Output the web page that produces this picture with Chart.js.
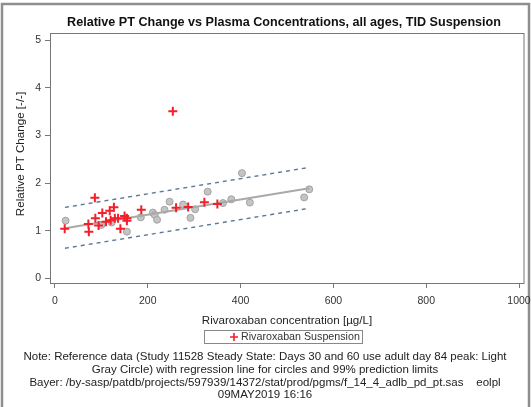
<!DOCTYPE html>
<html>
<head>
<meta charset="utf-8">
<script src="https://cdn.jsdelivr.net/npm/chart.js@4/dist/chart.umd.min.js"></script>
<style>
  html, body { margin: 0; padding: 0; background: #fff; }
  #wrap { width: 531px; height: 407px; position: relative; }
</style>
</head>
<body>
<div id="wrap"><canvas id="c" width="531" height="407"></canvas></div>
<script>
// Rivaroxaban suspension: concentration [µg/L] and relative PT change
const suspConc   = [21, 72, 73, 86, 87, 94, 102, 110, 118, 120, 127, 129, 136, 141, 150, 155, 155, 186, 254, 261, 287, 322, 350];
const suspPT     = [1.04, 1.14, 0.98, 1.69, 1.26, 1.11, 1.37, 1.19, 1.42, 1.22, 1.49, 1.26, 1.26, 1.04, 1.31, 1.26, 1.21, 1.44, 3.51, 1.48, 1.50, 1.60, 1.56];

// Reference data (adult study, gray circles)
const refConc    = [23, 100, 122, 155, 185, 211, 215, 220, 236, 247, 276, 292, 302, 329, 362, 380, 403, 420, 537, 548];
const refPT      = [1.21, 1.12, 1.17, 0.98, 1.28, 1.38, 1.33, 1.23, 1.44, 1.61, 1.55, 1.27, 1.45, 1.82, 1.58, 1.66, 2.21, 1.59, 1.70, 1.87];

// Regression line for the circles and 99% prediction limits
const fitConc    = [21.5, 548];
const fitPT      = [1.05, 1.89];
const upperPT    = [1.49, 2.33];
const lowerPT    = [0.63, 1.47];

// Axis ticks
const xTickVals  = [0, 200, 400, 600, 800, 1000];
const yTickVals  = [0, 1, 2, 3, 4, 5];

const titleText  = 'Relative PT Change vs Plasma Concentrations, all ages, TID Suspension';
const xTitle     = 'Rivaroxaban concentration [µg/L]';
const yTitle     = 'Relative PT Change [-/-]';
const legendText = 'Rivaroxaban Suspension';
const footLines  = [
  'Note: Reference data (Study 11528 Steady State: Days 30 and 60 use adult day 84 peak: Light',
  'Gray Circle) with regression line for circles and 99% prediction limits',
  'Bayer: /by-sasp/patdb/projects/597939/14372/stat/prod/pgms/f_14_4_adlb_pd_pt.sas    eolpl',
  '09MAY2019 16:16'
];

const FONT = '"Liberation Sans", Arial, sans-serif';
const toXY = (xs, ys) => xs.map((x, i) => ({ x: x, y: ys[i] }));

const RED = '#f2202a';
const FRAME = '#777777';

const decor = {
  id: 'decor',
  beforeDraw(chart) {
    const ctx = chart.ctx;
    ctx.save();
    ctx.fillStyle = '#ffffff';
    ctx.fillRect(0, 0, chart.width, chart.height);
    // outer frame
    ctx.strokeStyle = '#8e8e8e';
    ctx.lineWidth = 2.5;
    ctx.strokeRect(2, 4, 527, 420);
    ctx.restore();
  },
  afterDraw(chart) {
    const ctx = chart.ctx;
    const a = chart.chartArea;
    ctx.save();
    // plot frame
    ctx.strokeStyle = FRAME;
    ctx.lineWidth = 1;
    ctx.strokeRect(a.left + 0.5, a.top + 0.5, a.right - a.left - 1, a.bottom - a.top);

    ctx.fillStyle = '#111';
    ctx.textAlign = 'center';
    ctx.textBaseline = 'middle';
    ctx.font = 'bold 12.6px ' + FONT;
    ctx.fillText(titleText, 284, 23);

    ctx.font = '11.6px ' + FONT;
    ctx.fillStyle = '#222';
    ctx.fillText(xTitle, 287, 321);

    ctx.save();
    ctx.translate(21, 154);
    ctx.rotate(-Math.PI / 2);
    ctx.fillText(yTitle, 0, 0);
    ctx.restore();

    // legend
    ctx.strokeStyle = '#888';
    ctx.lineWidth = 1;
    ctx.strokeRect(204.5, 330.5, 158, 13);
    ctx.strokeStyle = RED;
    ctx.lineWidth = 1.6;
    ctx.beginPath();
    ctx.moveTo(230, 337); ctx.lineTo(238, 337);
    ctx.moveTo(234, 333); ctx.lineTo(234, 341);
    ctx.stroke();
    ctx.textAlign = 'left';
    ctx.fillStyle = '#333';
    ctx.font = '10.7px ' + FONT;
    ctx.fillText(legendText, 241, 337.5);

    // footnotes
    ctx.textAlign = 'center';
    ctx.fillStyle = '#222';
    ctx.font = '11.5px ' + FONT;
    footLines.forEach((t, i) => ctx.fillText(t, 265, 357 + i * 12.7));
    ctx.restore();
  }
};

new Chart(document.getElementById('c'), {
  type: 'scatter',
  data: {
    datasets: [
      {
        label: legendText,
        data: toXY(suspConc, suspPT),
        pointStyle: 'cross',
        pointRadius: 4.5,
        pointBorderWidth: 2,
        borderColor: RED,
        backgroundColor: RED,
        order: 0
      },
      {
        label: 'Upper 99% limit',
        data: toXY(fitConc, upperPT),
        showLine: true,
        pointRadius: 0,
        borderColor: '#5d7796',
        borderWidth: 1.4,
        borderDash: [4, 4],
        order: 1
      },
      {
        label: 'Lower 99% limit',
        data: toXY(fitConc, lowerPT),
        showLine: true,
        pointRadius: 0,
        borderColor: '#5d7796',
        borderWidth: 1.4,
        borderDash: [4, 4],
        order: 1
      },
      {
        label: 'Regression',
        data: toXY(fitConc, fitPT),
        showLine: true,
        pointRadius: 0,
        borderColor: '#a9a9a9',
        borderWidth: 2,
        order: 2
      },
      {
        label: 'Reference',
        data: toXY(refConc, refPT),
        pointStyle: 'circle',
        pointRadius: 3.5,
        pointBorderWidth: 1,
        borderColor: '#a3a3a3',
        backgroundColor: '#c4c4c4',
        order: 3
      }
    ]
  },
  options: {
    responsive: false,
    animation: false,
    devicePixelRatio: 1,
    layout: { padding: { left: 0, top: 33, right: 5, bottom: 0 } },
    plugins: {
      legend: { display: false },
      title: { display: false },
      tooltip: { enabled: false }
    },
    scales: {
      x: {
        type: 'linear',
        min: -10.7,
        max: 1011.8,
        afterBuildTicks: s => { s.ticks = xTickVals.map(v => ({ value: v })); },
        afterFit: s => { s.height = 124; s.paddingLeft = 0; s.paddingRight = 0; },
        grid: { drawOnChartArea: false, drawTicks: true, tickLength: 5, color: FRAME },
        border: { display: false },
        ticks: {
          font: { size: 10.5, family: FONT }, color: '#333', padding: 7, maxRotation: 0, autoSkip: false,
          callback: v => String(v)
        }
      },
      y: {
        type: 'linear',
        min: -0.1,
        max: 5.156,
        afterBuildTicks: s => { s.ticks = yTickVals.map(v => ({ value: v })); },
        afterFit: s => { s.width = 50; s.paddingTop = 0; s.paddingBottom = 0; },
        grid: { drawOnChartArea: false, drawTicks: true, tickLength: 5, color: FRAME },
        border: { display: false },
        ticks: { font: { size: 10.5, family: FONT }, color: '#333', padding: 4, autoSkip: false }
      }
    }
  },
  plugins: [decor]
});
</script>
</body>
</html>
